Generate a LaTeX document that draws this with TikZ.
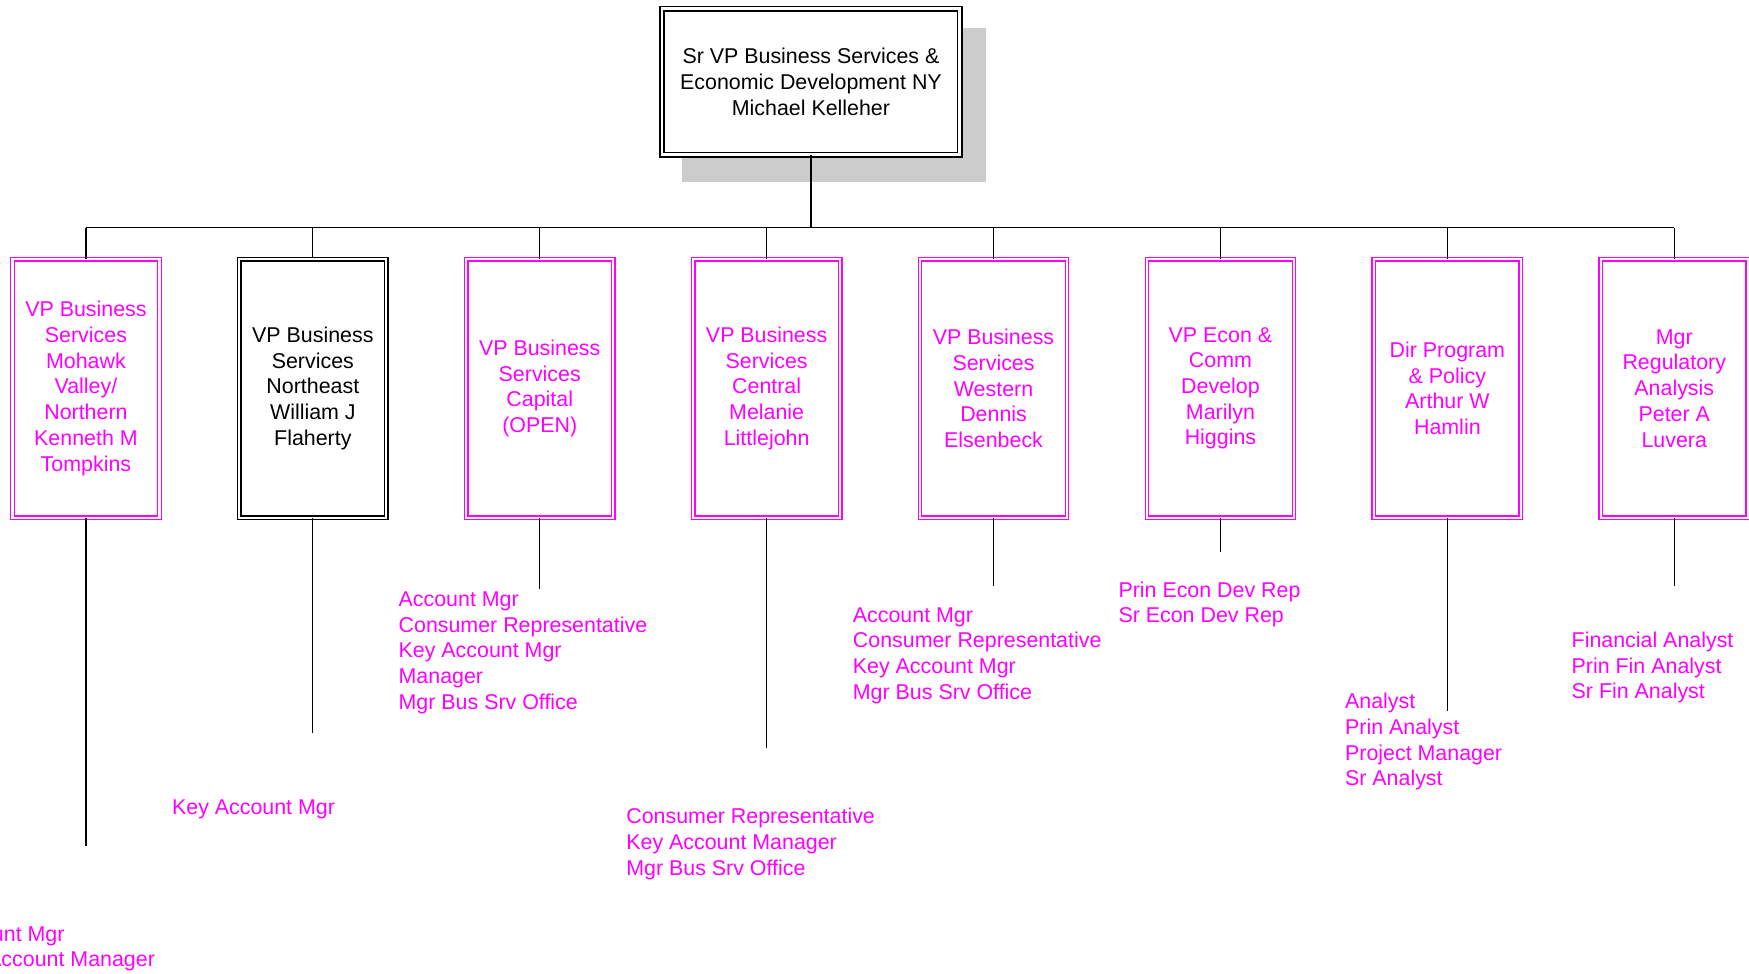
\documentclass[tikz,border=0pt]{standalone}
\usepackage{fontspec}
\setmainfont{Liberation Sans}
\definecolor{pinkc}{RGB}{255,0,255}
\definecolor{shadowc}{RGB}{204,204,204}
\begin{document}
\begin{tikzpicture}[x=1.1161pt,y=-1.1161pt,
  txt/.style={font=\fontsize{21.4pt}{25.7pt}\selectfont},
  topbox/.style={draw=black, double, double distance=2.6pt, line width=1.6pt,
     minimum width=297.6pt, minimum height=146pt, align=center, inner sep=0pt, txt, fill=white},
  vpbox/.style={draw=pinkc, text=pinkc, double, double distance=2.4pt, line width=1.2pt,
     minimum width=147pt, minimum height=258.6pt, align=center, inner sep=0pt, txt},
  vpblack/.style={vpbox, draw=black, text=black, line width=1.5pt, double distance=2.2pt},
  sublist/.style={anchor=north west, inner sep=0pt, align=left, text=pinkc, txt},
  conn/.style={draw=black, line width=1.3pt},
  bus/.style={draw=black, line width=1.6pt},
  mainconn/.style={draw=black, line width=2.2pt}]
\useasboundingbox (0,0) rectangle (1567.07,872.68);

% shadow of the top box
\fill[shadowc] (610.8,25.4) rectangle (883.5,162.8);
\node[topbox] (top) at (726.6,73.2) {Sr VP Business Services \&\\Economic Development NY\\Michael Kelleher};

% level 2 boxes
\node[vpbox]   (b1) at (77,348)     {VP Business\\Services\\Mohawk\\Valley/\\Northern\\Kenneth M\\Tompkins};
\node[vpblack] (b2) at (280.3,348)  {VP Business\\Services\\Northeast\\William J\\Flaherty};
\node[vpbox]   (b3) at (483.6,348)  {VP Business\\Services\\Capital\\(OPEN)};
\node[vpbox]   (b4) at (686.9,348)  {VP Business\\Services\\Central\\Melanie\\Littlejohn};
\node[vpbox]   (b5) at (890.2,348)  {VP Business\\Services\\Western\\Dennis\\Elsenbeck};
\node[vpbox]   (b6) at (1093.5,348) {VP Econ \&\\Comm\\Develop\\Marilyn\\Higgins};
\node[vpbox]   (b7) at (1296.8,348) {Dir Program\\\& Policy\\Arthur W\\Hamlin};
\node[vpbox]   (b8) at (1500.1,348) {Mgr\\Regulatory\\Analysis\\Peter A\\Luvera};

% bus
\coordinate (busy) at (0,204);
\draw[mainconn] (top.south) -- (top.south |- busy);
\draw[bus] (b1.north |- busy) -- (b8.north |- busy);
\foreach \i in {1,...,8}{
  \draw[conn] (b\i.north |- busy) -- (b\i.north);
}

% stems below boxes
\coordinate (e1) at (77,758);
\coordinate (e2) at (280.3,657);
\coordinate (e3) at (483.6,528);
\coordinate (e4) at (686.9,670);
\coordinate (e5) at (890.2,525);
\coordinate (e6) at (1093.5,495);
\coordinate (e7) at (1296.8,637);
\coordinate (e8) at (1500.1,525);
\foreach \i in {1,...,8}{
  \draw[conn] (b\i.south) -- (e\i);
}

% position lists
\node[sublist] (l1) at (-50,830) {Account Mgr\\Key Account Manager};
\node[sublist] (l2) at (154,716) {Key Account Mgr};
\node[sublist] (l3) at (357,530) {Account Mgr\\Consumer Representative\\Key Account Mgr\\Manager\\Mgr Bus Srv Office};
\node[sublist] (l4) at (561,724) {Consumer Representative\\Key Account Manager\\Mgr Bus Srv Office};
\node[sublist] (l5) at (764,544) {Account Mgr\\Consumer Representative\\Key Account Mgr\\Mgr Bus Srv Office};
\node[sublist] (l6) at (1002,521) {Prin Econ Dev Rep\\Sr Econ Dev Rep};
\node[sublist] (l7) at (1205,621) {Analyst\\Prin Analyst\\Project Manager\\Sr Analyst};
\node[sublist] (l8) at (1408,566) {Financial Analyst\\Prin Fin Analyst\\Sr Fin Analyst};
\end{tikzpicture}
\end{document}
